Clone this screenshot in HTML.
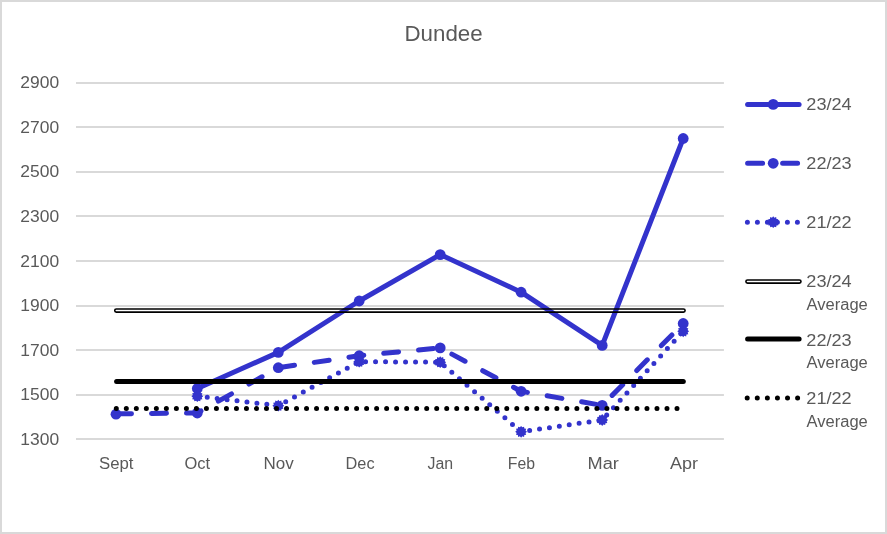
<!DOCTYPE html>
<html lang="en"><head><meta charset="utf-8"><title>Dundee</title>
<style>html,body{margin:0;padding:0;background:#fff;}body{width:887px;height:534px;overflow:hidden;}svg{display:block;}text{font-family:"Liberation Sans",sans-serif;fill:#595959;}</style></head><body>
<svg width="887" height="534" viewBox="0 0 887 534">
<rect x="0" y="0" width="887" height="534" fill="#fff"/>
<rect x="1" y="1" width="885" height="532" fill="none" stroke="#D9D9D9" stroke-width="2"/>
<text x="404.5" y="41.0" font-size="21.5" textLength="78.2" lengthAdjust="spacingAndGlyphs">Dundee</text>
<rect x="76" y="82" width="647.9" height="2" fill="#D9D9D9"/>
<text x="20.3" y="88" font-size="16.5" textLength="38.8" lengthAdjust="spacingAndGlyphs">2900</text>
<rect x="76" y="126" width="647.9" height="2" fill="#D9D9D9"/>
<text x="20.3" y="133" font-size="16.5" textLength="38.8" lengthAdjust="spacingAndGlyphs">2700</text>
<rect x="76" y="171" width="647.9" height="2" fill="#D9D9D9"/>
<text x="20.3" y="177" font-size="16.5" textLength="38.8" lengthAdjust="spacingAndGlyphs">2500</text>
<rect x="76" y="215" width="647.9" height="2" fill="#D9D9D9"/>
<text x="20.3" y="222" font-size="16.5" textLength="38.8" lengthAdjust="spacingAndGlyphs">2300</text>
<rect x="76" y="260" width="647.9" height="2" fill="#D9D9D9"/>
<text x="20.3" y="267" font-size="16.5" textLength="38.8" lengthAdjust="spacingAndGlyphs">2100</text>
<rect x="76" y="305" width="647.9" height="2" fill="#D9D9D9"/>
<text x="20.3" y="311" font-size="16.5" textLength="38.8" lengthAdjust="spacingAndGlyphs">1900</text>
<rect x="76" y="349" width="647.9" height="2" fill="#D9D9D9"/>
<text x="20.3" y="356" font-size="16.5" textLength="38.8" lengthAdjust="spacingAndGlyphs">1700</text>
<rect x="76" y="394" width="647.9" height="2" fill="#D9D9D9"/>
<text x="20.3" y="400" font-size="16.5" textLength="38.8" lengthAdjust="spacingAndGlyphs">1500</text>
<rect x="76" y="438" width="647.9" height="2" fill="#D9D9D9"/>
<text x="20.3" y="445" font-size="16.5" textLength="38.8" lengthAdjust="spacingAndGlyphs">1300</text>
<text x="99.0" y="468.8" font-size="16" textLength="34.5" lengthAdjust="spacingAndGlyphs">Sept</text>
<text x="184.5" y="468.8" font-size="16" textLength="25.6" lengthAdjust="spacingAndGlyphs">Oct</text>
<text x="263.6" y="468.8" font-size="16" textLength="30.2" lengthAdjust="spacingAndGlyphs">Nov</text>
<text x="345.6" y="468.8" font-size="16" textLength="29.0" lengthAdjust="spacingAndGlyphs">Dec</text>
<text x="427.5" y="468.8" font-size="16" textLength="25.6" lengthAdjust="spacingAndGlyphs">Jan</text>
<text x="507.8" y="468.8" font-size="16" textLength="27.2" lengthAdjust="spacingAndGlyphs">Feb</text>
<text x="587.6" y="468.8" font-size="16" textLength="31.3" lengthAdjust="spacingAndGlyphs">Mar</text>
<text x="670.0" y="468.8" font-size="16" textLength="28.0" lengthAdjust="spacingAndGlyphs">Apr</text>
<polyline points="197.3,388.5 278.3,352.4 359.2,301.0 440.2,254.6 521.1,292.2 602.2,345.4 683.2,138.5" fill="none" stroke="#3333CC" stroke-width="5" stroke-linecap="round" stroke-linejoin="round"/>
<circle cx="197.3" cy="388.5" r="5.4" fill="#3333CC"/>
<circle cx="278.3" cy="352.4" r="5.4" fill="#3333CC"/>
<circle cx="359.2" cy="301.0" r="5.4" fill="#3333CC"/>
<circle cx="440.2" cy="254.6" r="5.4" fill="#3333CC"/>
<circle cx="521.1" cy="292.2" r="5.4" fill="#3333CC"/>
<circle cx="602.2" cy="345.4" r="5.4" fill="#3333CC"/>
<circle cx="683.2" cy="138.5" r="5.4" fill="#3333CC"/>
<polyline points="116.5,413.8 197.3,413.0 278.3,367.7 359.2,355.7 440.2,347.9 521.1,391.3 602.2,405.4 683.2,323.5" fill="none" stroke="#3333CC" stroke-width="5" stroke-linecap="round" stroke-linejoin="round" stroke-dasharray="15 20"/>
<circle cx="116.0" cy="414.2" r="5.4" fill="#3333CC"/>
<circle cx="197.3" cy="413.0" r="5.4" fill="#3333CC"/>
<circle cx="278.3" cy="367.7" r="5.4" fill="#3333CC"/>
<circle cx="359.2" cy="355.7" r="5.4" fill="#3333CC"/>
<circle cx="440.2" cy="347.9" r="5.4" fill="#3333CC"/>
<circle cx="521.1" cy="391.3" r="5.4" fill="#3333CC"/>
<circle cx="602.2" cy="405.4" r="5.4" fill="#3333CC"/>
<circle cx="683.2" cy="323.5" r="5.4" fill="#3333CC"/>
<polyline points="197.3,396.2 278.3,405.7 359.2,361.7 440.2,362.2 521.1,431.8 602.2,420.0 683.2,331.3" fill="none" stroke="#3333CC" stroke-width="5" stroke-linecap="round" stroke-linejoin="round" stroke-dasharray="0 10"/>
<polygon points="203.20,396.20 201.74,397.39 202.41,399.15 200.55,399.45 200.25,401.31 198.49,400.64 197.30,402.10 196.11,400.64 194.35,401.31 194.05,399.45 192.19,399.15 192.86,397.39 191.40,396.20 192.86,395.01 192.19,393.25 194.05,392.95 194.35,391.09 196.11,391.76 197.30,390.30 198.49,391.76 200.25,391.09 200.55,392.95 202.41,393.25 201.74,395.01" fill="#3333CC"/>
<polygon points="284.20,405.70 282.74,406.89 283.41,408.65 281.55,408.95 281.25,410.81 279.49,410.14 278.30,411.60 277.11,410.14 275.35,410.81 275.05,408.95 273.19,408.65 273.86,406.89 272.40,405.70 273.86,404.51 273.19,402.75 275.05,402.45 275.35,400.59 277.11,401.26 278.30,399.80 279.49,401.26 281.25,400.59 281.55,402.45 283.41,402.75 282.74,404.51" fill="#3333CC"/>
<polygon points="365.10,361.70 363.64,362.89 364.31,364.65 362.45,364.95 362.15,366.81 360.39,366.14 359.20,367.60 358.01,366.14 356.25,366.81 355.95,364.95 354.09,364.65 354.76,362.89 353.30,361.70 354.76,360.51 354.09,358.75 355.95,358.45 356.25,356.59 358.01,357.26 359.20,355.80 360.39,357.26 362.15,356.59 362.45,358.45 364.31,358.75 363.64,360.51" fill="#3333CC"/>
<polygon points="446.10,362.20 444.64,363.39 445.31,365.15 443.45,365.45 443.15,367.31 441.39,366.64 440.20,368.10 439.01,366.64 437.25,367.31 436.95,365.45 435.09,365.15 435.76,363.39 434.30,362.20 435.76,361.01 435.09,359.25 436.95,358.95 437.25,357.09 439.01,357.76 440.20,356.30 441.39,357.76 443.15,357.09 443.45,358.95 445.31,359.25 444.64,361.01" fill="#3333CC"/>
<polygon points="527.00,431.80 525.54,432.99 526.21,434.75 524.35,435.05 524.05,436.91 522.29,436.24 521.10,437.70 519.91,436.24 518.15,436.91 517.85,435.05 515.99,434.75 516.66,432.99 515.20,431.80 516.66,430.61 515.99,428.85 517.85,428.55 518.15,426.69 519.91,427.36 521.10,425.90 522.29,427.36 524.05,426.69 524.35,428.55 526.21,428.85 525.54,430.61" fill="#3333CC"/>
<polygon points="608.10,420.00 606.64,421.19 607.31,422.95 605.45,423.25 605.15,425.11 603.39,424.44 602.20,425.90 601.01,424.44 599.25,425.11 598.95,423.25 597.09,422.95 597.76,421.19 596.30,420.00 597.76,418.81 597.09,417.05 598.95,416.75 599.25,414.89 601.01,415.56 602.20,414.10 603.39,415.56 605.15,414.89 605.45,416.75 607.31,417.05 606.64,418.81" fill="#3333CC"/>
<polygon points="689.10,331.30 687.64,332.49 688.31,334.25 686.45,334.55 686.15,336.41 684.39,335.74 683.20,337.20 682.01,335.74 680.25,336.41 679.95,334.55 678.09,334.25 678.76,332.49 677.30,331.30 678.76,330.11 678.09,328.35 679.95,328.05 680.25,326.19 682.01,326.86 683.20,325.40 684.39,326.86 686.15,326.19 686.45,328.05 688.31,328.35 687.64,330.11" fill="#3333CC"/>
<rect x="114.7" y="308.95" width="570.4" height="3.2" rx="1.6" fill="none" stroke="#000" stroke-width="1.6"/>
<line x1="116.6" y1="381.4" x2="683.3" y2="381.4" stroke="#000" stroke-width="5" stroke-linecap="round"/>
<line x1="116.3" y1="408.6" x2="683.3" y2="408.6" stroke="#000" stroke-width="5" stroke-linecap="round" stroke-dasharray="0 10.0125"/>
<line x1="747.6" y1="104.4" x2="799.1" y2="104.4" fill="none" stroke="#3333CC" stroke-width="5" stroke-linecap="round" stroke-linejoin="round"/><circle cx="773.2" cy="104.4" r="5.4" fill="#3333CC"/>
<line x1="747.6" y1="163.3" x2="799.1" y2="163.3" fill="none" stroke="#3333CC" stroke-width="5" stroke-linecap="round" stroke-linejoin="round" stroke-dasharray="15 20"/><circle cx="773.2" cy="163.3" r="5.4" fill="#3333CC"/>
<line x1="747.4" y1="222.2" x2="799.1" y2="222.2" fill="none" stroke="#3333CC" stroke-width="5" stroke-linecap="round" stroke-linejoin="round" stroke-dasharray="0 10"/><polygon points="779.10,222.20 777.64,223.39 778.31,225.15 776.45,225.45 776.15,227.31 774.39,226.64 773.20,228.10 772.01,226.64 770.25,227.31 769.95,225.45 768.09,225.15 768.76,223.39 767.30,222.20 768.76,221.01 768.09,219.25 769.95,218.95 770.25,217.09 772.01,217.76 773.20,216.30 774.39,217.76 776.15,217.09 776.45,218.95 778.31,219.25 777.64,221.01" fill="#3333CC"/>
<rect x="745.9" y="279.95" width="55.1" height="3.2" rx="1.6" fill="none" stroke="#000" stroke-width="1.6"/>
<line x1="747.6" y1="339.1" x2="799.1" y2="339.1" stroke="#000" stroke-width="5" stroke-linecap="round"/>
<line x1="747.2" y1="398.1" x2="799.1" y2="398.1" stroke="#000" stroke-width="5" stroke-linecap="round" stroke-dasharray="0 10.08"/>
<text x="806.3" y="110.1" font-size="16.5" textLength="45.4" lengthAdjust="spacingAndGlyphs">23/24</text>
<text x="806.3" y="169.0" font-size="16.5" textLength="45.4" lengthAdjust="spacingAndGlyphs">22/23</text>
<text x="806.3" y="227.9" font-size="16.5" textLength="45.4" lengthAdjust="spacingAndGlyphs">21/22</text>
<text x="806.3" y="286.8" font-size="16.5" textLength="45.4" lengthAdjust="spacingAndGlyphs">23/24</text>
<text x="806.5" y="309.9" font-size="16" textLength="61.3" lengthAdjust="spacingAndGlyphs">Average</text>
<text x="806.3" y="345.7" font-size="16.5" textLength="45.4" lengthAdjust="spacingAndGlyphs">22/23</text>
<text x="806.5" y="367.8" font-size="16" textLength="61.3" lengthAdjust="spacingAndGlyphs">Average</text>
<text x="806.3" y="403.7" font-size="16.5" textLength="45.4" lengthAdjust="spacingAndGlyphs">21/22</text>
<text x="806.5" y="427.0" font-size="16" textLength="61.3" lengthAdjust="spacingAndGlyphs">Average</text>
</svg></body></html>
